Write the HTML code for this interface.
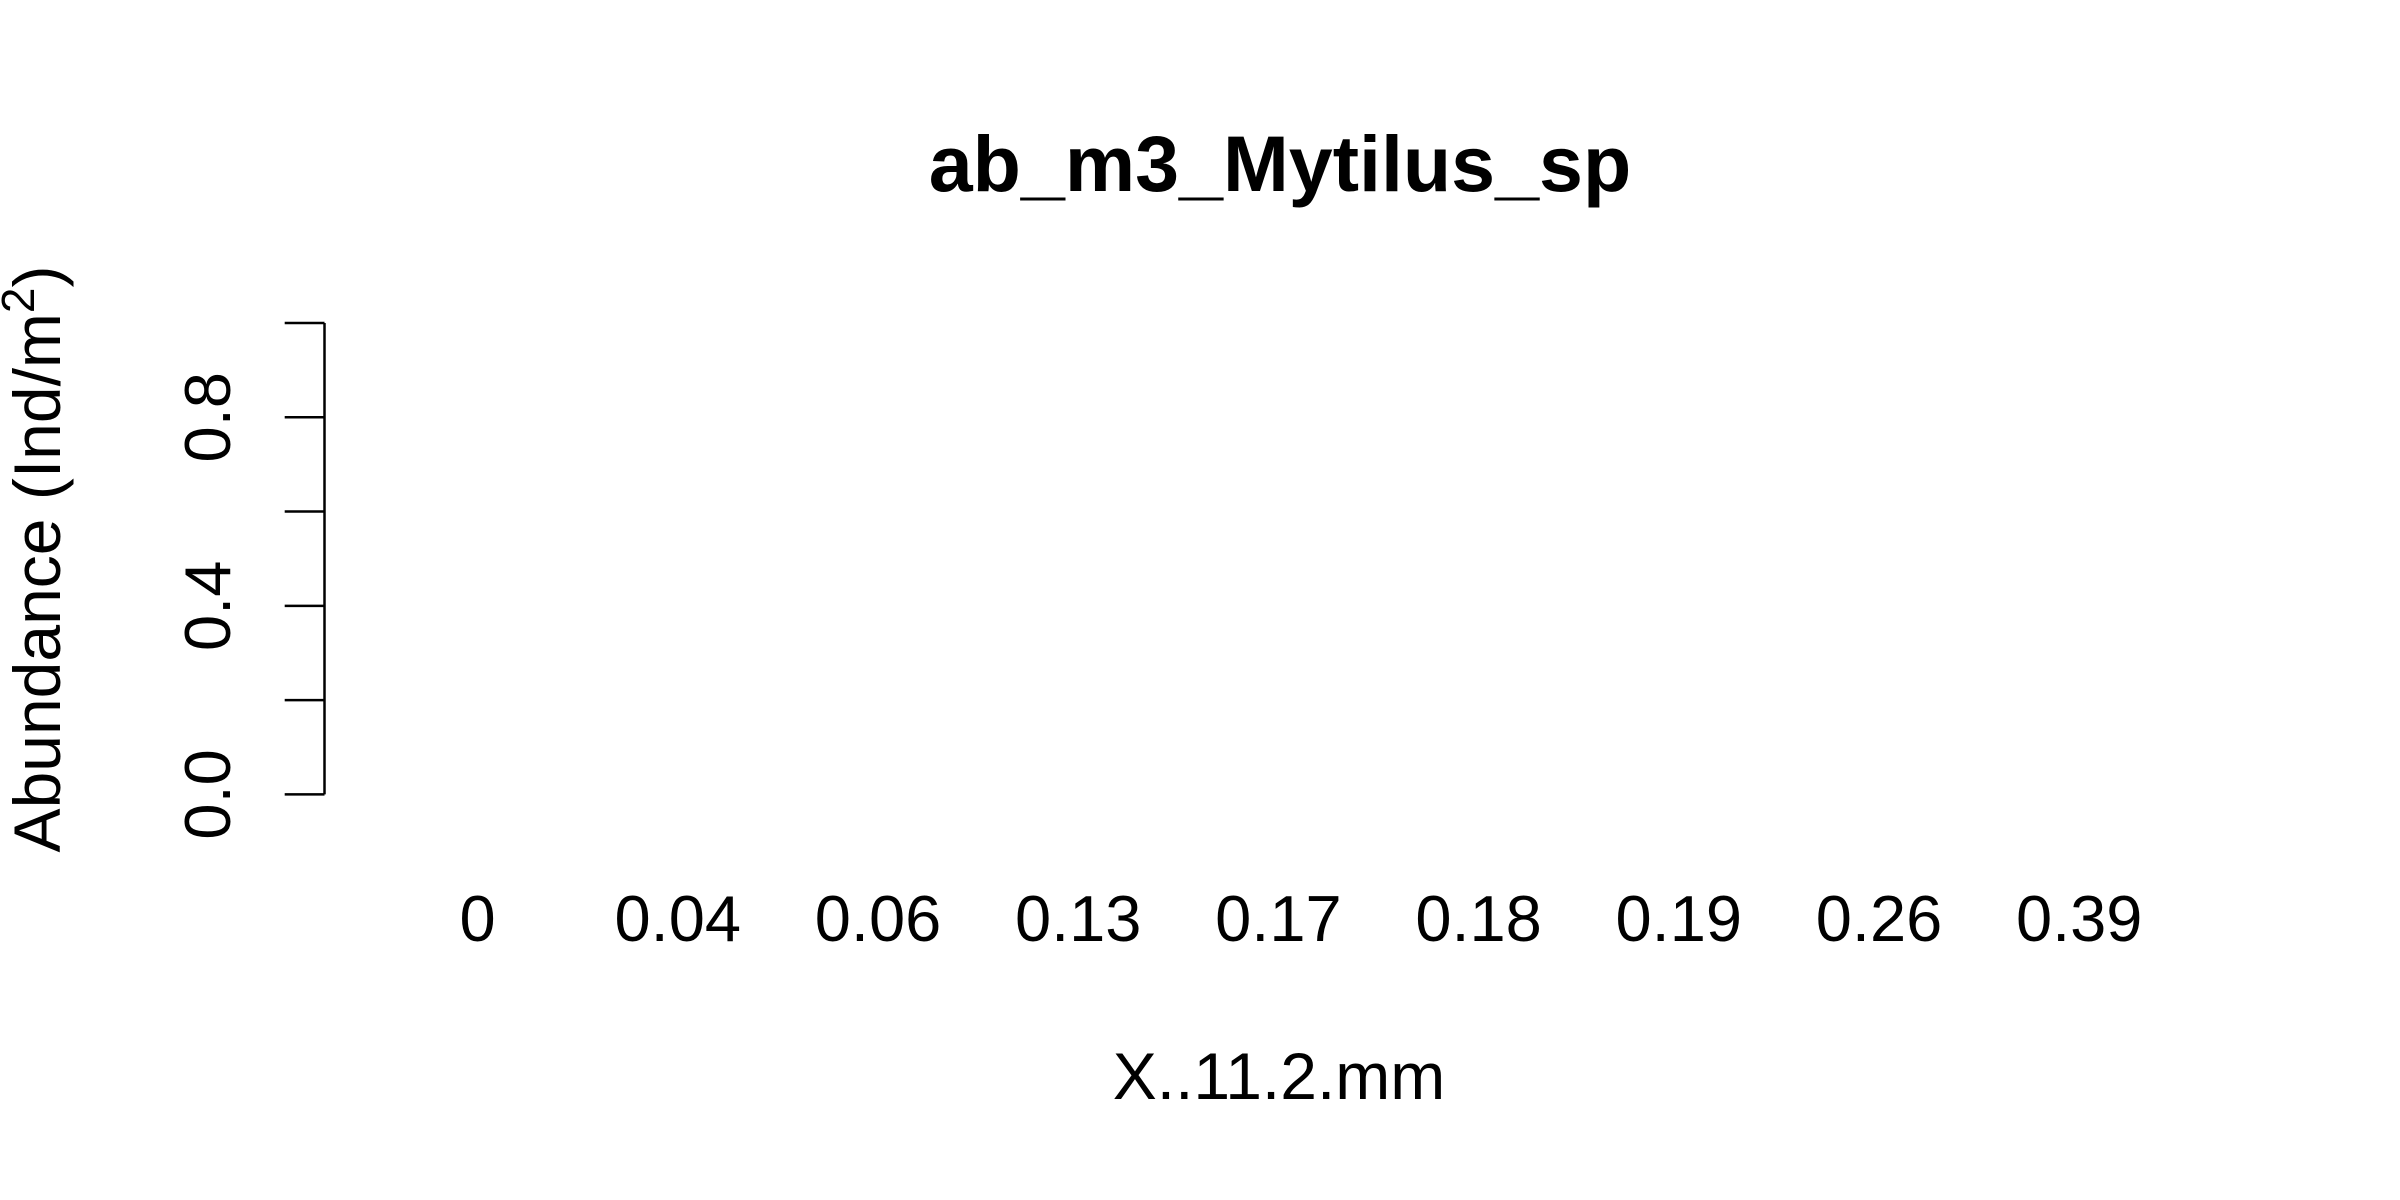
<!DOCTYPE html>
<html><head><meta charset="utf-8"><style>
html,body{margin:0;padding:0;background:#fff;}
svg{display:block;font-family:"Liberation Sans",Arial,sans-serif;}
</style></head><body>
<svg id="chart" width="2400" height="1200" viewBox="0 0 2400 1200">
<rect width="2400" height="1200" fill="#fff"/>
<text x="1280" y="191" font-size="79" font-weight="bold" text-anchor="middle">ab_m3_Mytilus_sp</text>
<g id="yaxis"></g>
<g id="bars"></g>
<g id="xlabels"></g>
<text x="1279" y="1099" font-size="66" text-anchor="middle">X..11.2.mm</text>
<text transform="translate(60,559) rotate(-90)" font-size="66" text-anchor="middle">Abundance (Ind/m<tspan font-size="46" dy="-26">2</tspan><tspan dy="26">)</tspan></text>
</svg>
<script>
const categories = ["0","0.04","0.06","0.13","0.17","0.18","0.19","0.26","0.39"];
const values = [0,0,0,0,0,0,0,0,0];
const yTicks = [0,0.2,0.4,0.6,0.8,1.0];
const yTickLabels = ["0.0","","0.4","","0.8",""];
const NS="http://www.w3.org/2000/svg";
const y0=794.4, y1=323, yMin=0, yMax=1;
function yScale(v){return y0-(v-yMin)/(yMax-yMin)*(y0-y1);}
const xStart=477.6, xStep=200.2;
function xScale(i){return xStart+i*xStep;}
const yAxis=document.getElementById('yaxis');
const axLine=document.createElementNS(NS,'line');
axLine.setAttribute('x1',324.5);axLine.setAttribute('x2',324.5);
axLine.setAttribute('y1',yScale(yTicks[0]));axLine.setAttribute('y2',yScale(yTicks[yTicks.length-1]));
axLine.setAttribute('stroke','#000');axLine.setAttribute('stroke-width','2.5');


yAxis.appendChild(axLine);
yTicks.forEach((t,i)=>{
  const l=document.createElementNS(NS,'line');
  l.setAttribute('x1',284.7);l.setAttribute('x2',324.5);
  l.setAttribute('y1',yScale(t));l.setAttribute('y2',yScale(t));
  l.setAttribute('stroke','#000');l.setAttribute('stroke-width','2.5');
  
  
  yAxis.appendChild(l);
  if(yTickLabels[i]){
    const tx=document.createElementNS(NS,'text');
    tx.setAttribute('transform','translate(230,'+yScale(t)+') rotate(-90)');
    tx.setAttribute('text-anchor','middle');tx.setAttribute('font-size','65');
    tx.textContent=yTickLabels[i];
    
    
    yAxis.appendChild(tx);
  }
});
const bars=document.getElementById('bars');
const xl=document.getElementById('xlabels');
categories.forEach((c,i)=>{
  const h=yScale(0)-yScale(values[i]);
  if(h>0){
    const r=document.createElementNS(NS,'rect');
    r.setAttribute('x',xScale(i)-80);r.setAttribute('width',160);
    r.setAttribute('y',yScale(values[i]));r.setAttribute('height',h);
    r.setAttribute('fill','#bebebe');r.setAttribute('stroke','#000');
    
    
    bars.appendChild(r);
  }
  const t=document.createElementNS(NS,'text');
  t.setAttribute('x',xScale(i));t.setAttribute('y',941);
  t.setAttribute('text-anchor','middle');t.setAttribute('font-size','65');
  t.textContent=c;
  
  
  xl.appendChild(t);
});
</script>
</body></html>
